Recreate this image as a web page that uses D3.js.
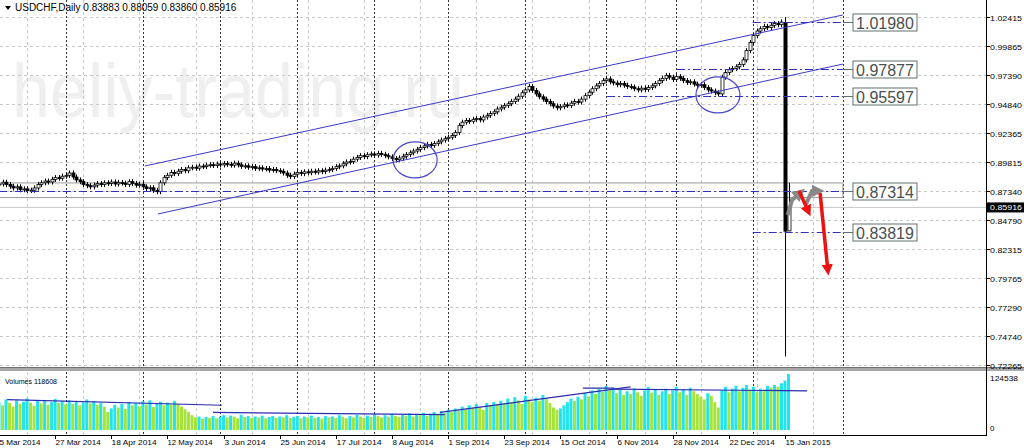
<!DOCTYPE html>
<html><head><meta charset="utf-8">
<script src="https://cdn.jsdelivr.net/npm/d3@7/dist/d3.min.js"></script>
<style>body{margin:0;background:#fff}svg{display:block}</style>
</head><body><svg id="c" width="1024" height="448"></svg>
<script>
const closes=[0.8795,0.8810,0.8790,0.8775,0.8760,0.8770,
0.8745,0.8752,0.8738,0.8741,0.8760,
0.8790,0.8805,0.8820,0.8812,0.8835,0.8850,
0.8845,0.8862,0.8870,0.8890,0.8855,0.8830,
0.8815,0.8790,0.8780,0.8770,0.8785,0.8798,
0.8790,0.8805,0.8800,0.8812,0.8795,0.8808,0.8802,0.8790,0.8815,0.8800,0.8785,0.8792,
0.8770,0.8755,0.8762,0.8740,0.8728,
0.8805,0.8850,0.8870,0.8895,0.8885,
0.8905,0.8920,0.8910,0.8935,0.8940,0.8932,0.8950,0.8945,0.8958,0.8962,
0.8955,0.8968,0.8960,0.8972,0.8965,0.8958,0.8975,0.8960,0.8948,0.8952,
0.8940,0.8945,0.8930,0.8935,0.8925,0.8928,0.8915,0.8920,0.8910,0.8905,
0.8890,0.8870,0.8860,0.8880,
0.8895,0.8885,0.8900,0.8892,0.8905,0.8898,0.8910,0.8902,0.8915,0.8920,0.8930,
0.8945,0.8952,0.8970,0.8985,0.8990,
0.9010,0.9025,0.9040,0.9032,0.9048,0.9055,0.9045,0.9060,0.9052,0.9040,
0.9030,0.9015,0.9005,0.9020,0.9035,0.9050,0.9065,
0.9080,0.9095,0.9110,0.9125,0.9138,0.9130,
0.9145,0.9160,0.9175,0.9190,0.9200,0.9215,0.9240,
0.9300,0.9330,0.9345,0.9338,0.9355,0.9362,0.9350,0.9375,0.9390,0.9405,
0.9420,0.9445,0.9460,0.9475,0.9490,0.9510,0.9530,0.9555,0.9585,0.9610,
0.9640,0.9605,0.9575,
0.9550,0.9530,0.9510,0.9490,0.9470,0.9455,0.9465,
0.9480,0.9475,0.9495,0.9510,0.9505,0.9530,
0.9560,0.9590,0.9620,0.9645,0.9665,0.9690,
0.9705,0.9680,0.9670,0.9655,0.9665,0.9650,0.9640,0.9635,
0.9620,0.9610,0.9625,0.9615,0.9630,0.9645,
0.9665,0.9690,0.9710,0.9735,0.9720,0.9700,0.9725,
0.9710,0.9690,0.9675,0.9680,0.9660,0.9650,0.9655,
0.9630,0.9610,0.9600,0.9585,0.9575,
0.9720,0.9760,0.9785,0.9795,0.9810,
0.9830,0.9870,0.9950,1.0020,
1.0080,1.0120,1.0140,1.0160,1.0150,1.0170,1.0185,1.0175,1.0198];
// last two sessions (15 Jan, 16 Jan 2015): open, high, low, close
const lastBars=[[1.0198,1.0240,0.7300,0.83819],[0.83883,0.88059,0.83860,0.85916]];
const volumes=[62000,55000,68000,60000,52000,66000,58000,63000,70000,61000,
54000,65000,59000,67000,56000,62000,69000,60000,64000,57000,
66000,58000,63000,55000,61000,68000,59000,64000,56000,60000,
52000,40000,48000,56000,50000,58000,47000,62000,55000,60000,
53000,64000,57000,66000,51000,59000,63000,55000,61000,57000,
65000,58000,52000,46000,40000,33000,28000,30000,25000,29000,
27000,31000,26000,29000,33000,28000,32000,30000,26000,34000,
29000,31000,27000,30000,28000,32000,26000,29000,31000,27000,
30000,28000,33000,27000,29000,31000,26000,30000,28000,32000,
27000,29000,25000,31000,28000,30000,27000,33000,29000,26000,
31000,28000,34000,30000,27000,32000,29000,35000,31000,28000,
33000,30000,36000,31000,29000,34000,32000,37000,30000,35000,
33000,38000,31000,36000,40000,35000,42000,38000,45000,40000,
48000,43000,52000,46000,55000,49000,58000,51000,45000,60000,
54000,62000,57000,65000,59000,70000,61000,73000,66000,58000,
76000,68000,62000,72000,65000,78000,70000,60000,50000,45000,
48000,55000,62000,70000,65000,74000,68000,82000,75000,88000,
80000,92000,85000,98000,88000,94000,82000,90000,78000,86000,
80000,92000,84000,76000,88000,95000,83000,90000,78000,86000,
92000,80000,88000,96000,84000,90000,78000,94000,86000,80000,
74000,68000,82000,76000,62000,50000,88000,96000,84000,92000,
98000,86000,94000,100000,90000,96000,84000,92000,88000,98000,
94000,100000,96000,104000,110000,124538];
const dateLabels=["5 Mar 2014","27 Mar 2014","18 Apr 2014","12 May 2014","3 Jun 2014","25 Jun 2014","17 Jul 2014","8 Aug 2014","1 Sep 2014","23 Sep 2014","15 Oct 2014","6 Nov 2014","28 Nov 2014","22 Dec 2014","15 Jan 2015"];
const priceTicks=[1.02415,0.99865,0.97390,0.94840,0.92365,0.89815,0.87340,0.84790,0.82315,0.79765,0.77290,0.74740,0.72265];
const monthStarts=[19,41,63,85,107,128,150,173,193,215,240.5];
const levels=[{v:1.01980,i0:214.8},{v:0.97877,i0:193.2},{v:0.95597,i0:173.3},{v:0.87314,i0:0},{v:0.83819,i0:214.8}];
const channel=[[[41.6,0.8951],[240.5,1.0259]],[[45.3,0.8535],[240.5,0.9834]]];
const circles=[[118.6,0.9003],[204.9,0.9566]];
const boxRange=[0,240.5,0.8804,0.8677];
const grayArrows=[[[224.8,0.8527],[226,0.8657],[228.3,0.8717]],[[230,0.8622],[231.7,0.8735],[233.4,0.8735]]];
const redArrows=[[[228,0.8735],[230.6,0.8560]],[[234,0.8717],[236.2,0.8050]]];
const volLines=[[[2.3,67500],[63.5,55000]],[[61,39000],[127,34000]],[[125.7,39000],[180,96000]],[[166.4,93000],[175.3,93000]],[[175.3,91000],[230.3,87000]]];
const volMax=124538, volLast=118608, lastPrice=0.85916;

const svg=d3.select("#c");
const x=d3.scaleLinear().domain([0,224]).range([-1,785]);
const y=d3.scaleLinear().domain([0.72265,1.02415]).range([365,17]);
const yv=d3.scaleLinear().domain([0,volMax]).range([430,374]);
const font="'Liberation Sans', Arial, sans-serif";
const rightX=986;

svg.append("text").attr("x",12).attr("y",117).attr("font-family","Arial, 'Liberation Sans'").attr("font-size",76)
 .attr("fill","#efefef").attr("textLength",452).attr("lengthAdjust","spacingAndGlyphs").text("heliy-trading.ru");

const grid=svg.append("g");
priceTicks.forEach(p=>grid.append("line").attr("x1",0).attr("x2",rightX).attr("y1",Math.round(y(p))+.5).attr("y2",Math.round(y(p))+.5)
 .attr("stroke","#c8c8c8").attr("stroke-dasharray","3,3"));
dateLabels.forEach((d,k)=>{const xx=Math.round(x(k*16+8))+.5;
 grid.append("line").attr("x1",xx).attr("x2",xx).attr("y1",0).attr("y2",367).attr("stroke","#c8c8c8").attr("stroke-dasharray","3,3");
 grid.append("line").attr("x1",xx).attr("x2",xx).attr("y1",372).attr("y2",435).attr("stroke","#c8c8c8").attr("stroke-dasharray","3,3");});
monthStarts.forEach(m=>{const xx=Math.round(x(m))+.5;
 grid.append("line").attr("x1",xx).attr("x2",xx).attr("y1",0).attr("y2",435).attr("stroke","#333").attr("stroke-dasharray","2,2");});

svg.append("rect").attr("x",x(boxRange[0])).attr("y",y(boxRange[2])).attr("width",x(boxRange[1])-x(boxRange[0]))
 .attr("height",y(boxRange[3])-y(boxRange[2])).attr("fill","none").attr("stroke","#9a9a9a");
svg.append("line").attr("x1",0).attr("x2",rightX).attr("y1",y(lastPrice)).attr("y2",y(lastPrice)).attr("stroke","#c8c8c8");

const bars=closes.map((c,i)=>{const o=i?closes[i-1]:c;return {i,o,c,h:Math.max(o,c)+0.0022,l:Math.min(o,c)-0.0022};});
lastBars.forEach((b,k)=>bars.push({i:224+k,o:b[0],h:b[1],l:b[2],c:b[3]}));
const cg=svg.append("g");
bars.forEach(b=>{const xx=Math.round(x(b.i))+.5;
 cg.append("line").attr("x1",xx).attr("x2",xx).attr("y1",y(b.h)).attr("y2",y(b.l)).attr("stroke","#000");
 const top=y(Math.max(b.o,b.c)),bot=y(Math.min(b.o,b.c));
 const w=b.i===224?4:3;
 cg.append("rect").attr("x",xx-w/2).attr("y",top).attr("width",w).attr("height",Math.max(1,bot-top))
  .attr("fill",b.c>=b.o?"#fff":"#000").attr("stroke","#000").attr("stroke-width",b.i===224?0:0.8);
});

const lg=d3.line().x(d=>x(d[0])).y(d=>y(d[1]));
channel.forEach(c=>svg.append("path").attr("d",lg(c)).attr("stroke","#3a3acc").attr("fill","none").attr("stroke-width",1));
circles.forEach(c=>svg.append("ellipse").attr("cx",x(c[0])).attr("cy",y(c[1])).attr("rx",22).attr("ry",18)
 .attr("fill","none").attr("stroke","#4848cc").attr("stroke-width",1.2));

levels.forEach(l=>{const yy=Math.round(y(l.v))+.5;
 svg.append("line").attr("x1",x(l.i0)).attr("x2",x(240.5)).attr("y1",yy).attr("y2",yy).attr("stroke","#3030c0").attr("stroke-dasharray","8,3,2,3");
 svg.append("line").attr("x1",x(240.5)).attr("x2",853).attr("y1",yy).attr("y2",yy).attr("stroke","#607070");
 svg.append("rect").attr("x",853).attr("y",yy-8.5).attr("width",64).attr("height",17).attr("fill","#fff").attr("stroke","#607070");
 svg.append("text").attr("x",885).attr("y",yy+6).attr("text-anchor","middle").attr("font-family","Arial, 'Liberation Sans'")
  .attr("font-size",16).attr("fill","#4a5050").text(l.v.toFixed(5));
});

const defs=svg.append("defs");
[["ag","#888"],["ar","#ee1111"]].forEach(([id,col])=>defs.append("marker").attr("id",id).attr("viewBox","0 0 10 10").attr("refX",5).attr("refY",5)
 .attr("markerWidth",3.2).attr("markerHeight",3.2).attr("orient","auto").append("path").attr("d","M0,0L10,5L0,10z").attr("fill",col));
grayArrows.forEach(a=>svg.append("path").attr("d",lg(a)).attr("stroke","#888").attr("stroke-width",4).attr("fill","none").attr("marker-end","url(#ag)"));
redArrows.forEach(a=>svg.append("path").attr("d",lg(a)).attr("stroke","#ee1111").attr("stroke-width",3.5).attr("fill","none").attr("marker-end","url(#ar)"));

svg.append("rect").attr("x",0).attr("y",367).attr("width",1024).attr("height",4).attr("fill","#a8a8a8");
svg.append("line").attr("x1",0).attr("x2",1024).attr("y1",367.5).attr("y2",367.5).attr("stroke","#707070");
svg.append("line").attr("x1",rightX+.5).attr("x2",rightX+.5).attr("y1",0).attr("y2",436).attr("stroke","#000");
svg.append("line").attr("x1",0).attr("x2",rightX).attr("y1",435.5).attr("y2",435.5).attr("stroke","#000");
const axText=(sel)=>sel.attr("font-family",font).attr("font-size",8);
priceTicks.forEach(p=>{const yy=Math.round(y(p))+.5;
 svg.append("line").attr("x1",rightX).attr("x2",rightX+4).attr("y1",yy).attr("y2",yy).attr("stroke","#000");
 axText(svg.append("text").attr("x",990).attr("y",yy+3)).attr("textLength",32).attr("lengthAdjust","spacingAndGlyphs").text(p.toFixed(5));});
const ly=y(lastPrice);
svg.append("rect").attr("x",rightX+1).attr("y",ly-5).attr("width",37).attr("height",10).attr("fill","#000");
axText(svg.append("text").attr("x",990).attr("y",ly+3)).attr("fill","#fff").attr("textLength",32).attr("lengthAdjust","spacingAndGlyphs").text(lastPrice.toFixed(5));

volumes.forEach((v,i)=>{const up=i===0||v>volumes[i-1];
 svg.append("rect").attr("x",x(i)-1.5).attr("y",yv(v)).attr("width",3).attr("height",yv(0)-yv(v)).attr("fill",up?"#22e4ee":"#a6e33a");});
volLines.forEach(l=>svg.append("path").attr("d",d3.line().x(d=>x(d[0])).y(d=>yv(d[1]))(l)).attr("stroke","#2c2cb0").attr("stroke-width",1.2).attr("fill","none"));
axText(svg.append("text").attr("x",5).attr("y",384)).attr("textLength",52).attr("lengthAdjust","spacingAndGlyphs").text("Volumes "+volLast);
axText(svg.append("text").attr("x",990).attr("y",381)).attr("textLength",28).attr("lengthAdjust","spacingAndGlyphs").text(volMax);
axText(svg.append("text").attr("x",990).attr("y",431)).text("0");

dateLabels.forEach((d,k)=>{const xx=Math.round(x(k*16))+.5;
 svg.append("line").attr("x1",xx).attr("x2",xx).attr("y1",435).attr("y2",439).attr("stroke","#000");
 axText(svg.append("text").attr("x",xx).attr("y",445)).attr("textLength",d.length*4.1).attr("lengthAdjust","spacingAndGlyphs").text(d);});

svg.append("path").attr("d","M5,6L11,6L8,10z").attr("fill","#000");
svg.append("text").attr("x",15).attr("y",11).attr("font-family",font).attr("font-size",10).text("USDCHF,Daily  0.83883 0.88059 0.83860 0.85916");
</script></body></html>
